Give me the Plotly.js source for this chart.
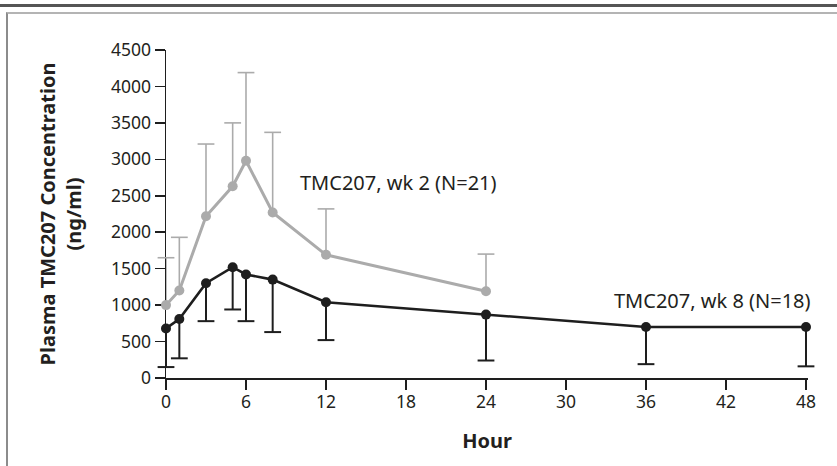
<!DOCTYPE html>
<html>
<head>
<meta charset="utf-8">
<script src="https://cdn.plot.ly/plotly-3.0.1.min.js"></script>
<style>
  html, body { margin: 0; padding: 0; background: #ffffff; }
  #wrap { position: relative; width: 837px; height: 466px; overflow: hidden; background: #ffffff; }
  #rule { position: absolute; left: 0; top: 4px; width: 837px; height: 3px; background: #555555; }
  #box { position: absolute; left: 6px; top: 12px; width: 900px; height: 500px;
         border-left: 2px solid #8c8c8c; border-top: 2px solid #b4b4b4; }
  #chart { position: absolute; left: 0; top: 0; width: 837px; height: 466px; }
</style>
</head>
<body>
<div id="wrap">
  <div id="rule"></div>
  <div id="box"></div>
  <div id="chart"></div>
</div>
<script>
// ---- data ----
const hoursWk2 = [0, 1, 3, 5, 6, 8, 12, 24];
const concWk2 = [1000, 1200, 2220, 2630, 2980, 2270, 1690, 1190];
const upperWk2 = [1650, 1930, 3210, 3500, 4190, 3370, 2320, 1700];

const hoursWk8 = [0, 1, 3, 5, 6, 8, 12, 24, 36, 48];
const concWk8 = [680, 810, 1300, 1520, 1420, 1350, 1040, 870, 700, 700];
const lowerWk8 = [150, 270, 780, 940, 780, 630, 520, 240, 190, 160];

const xTickVals = [0, 6, 12, 18, 24, 30, 36, 42, 48];
const yTickVals = [0, 500, 1000, 1500, 2000, 2500, 3000, 3500, 4000, 4500];

const labelWk2 = "TMC207, wk 2 (N=21)";
const labelWk8 = "TMC207, wk 8 (N=18)";
const xTitle = "Hour";
const yTitle = "Plasma TMC207 Concentration<br>(ng/ml)";

// ---- styling ----
const GREY = "#ababab";
const BLACK = "#1e1e1e";
const TEXT = "#231f20";
const FONT = "Noto Sans, Open Sans, sans-serif";

const zeros = (n) => new Array(n).fill(0);
const diff = (a, b) => a.map((v, i) => v - b[i]);

// stems: one-sided error bars without caps, starting at the mean
function stemTrace(xs, ys, plus, minus, color, width) {
  return {
    type: "scatter", mode: "markers", x: xs, y: ys,
    marker: { opacity: 0, size: 1 }, hoverinfo: "skip", showlegend: false, cliponaxis: false,
    error_y: { type: "data", symmetric: false, array: plus, arrayminus: minus,
               color: color, thickness: width, width: 0 }
  };
}
// caps: horizontal line markers at the far end of each whisker (not clipped at the axes)
function capTrace(xs, ends, color, width) {
  return {
    type: "scatter", mode: "markers", x: xs, y: ends,
    marker: { symbol: "line-ew", size: 12, color: color, line: { color: color, width: width } },
    hoverinfo: "skip", showlegend: false, cliponaxis: false
  };
}

const traces = [
  stemTrace(hoursWk2, concWk2, diff(upperWk2, concWk2), zeros(hoursWk2.length), GREY, 1.6),
  capTrace(hoursWk2, upperWk2, GREY, 1.6),
  { type: "scatter", mode: "lines+markers", x: hoursWk2, y: concWk2, name: labelWk2,
    line: { color: GREY, width: 3 }, marker: { color: GREY, size: 10 },
    showlegend: false, cliponaxis: false },
  stemTrace(hoursWk8, concWk8, zeros(hoursWk8.length), diff(concWk8, lowerWk8), BLACK, 2),
  capTrace(hoursWk8, lowerWk8, BLACK, 2),
  { type: "scatter", mode: "lines+markers", x: hoursWk8, y: concWk8, name: labelWk8,
    line: { color: BLACK, width: 2.6 }, marker: { color: BLACK, size: 10 },
    showlegend: false, cliponaxis: false }
];

const layout = {
  width: 837, height: 466,
  margin: { l: 166, r: 29, t: 50, b: 88 },
  paper_bgcolor: "rgba(0,0,0,0)",
  plot_bgcolor: "rgba(0,0,0,0)",
  font: { family: FONT, color: TEXT, size: 17 },
  showlegend: false,
  xaxis: {
    range: [0, 48.15], tickvals: xTickVals, ticktext: xTickVals.map(String),
    showgrid: false, zeroline: false, showline: true, linecolor: BLACK, linewidth: 1.5,
    ticks: "outside", ticklen: 10, tickwidth: 1.5, tickcolor: BLACK, layer: "below traces",
    ticklabelstandoff: -3,
    tickfont: { family: FONT, size: 17.5, color: TEXT },
    title: { text: xTitle, font: { family: FONT, size: 20, color: TEXT, weight: "bold" }, standoff: 22 },
    fixedrange: true
  },
  yaxis: {
    range: [0, 4500], tickvals: yTickVals, ticktext: yTickVals.map(String),
    showgrid: false, zeroline: false, showline: true, linecolor: BLACK, linewidth: 1.5,
    ticks: "outside", ticklen: 10, tickwidth: 1.5, tickcolor: BLACK, layer: "below traces",
    tickfont: { family: FONT, size: 17.5, color: TEXT },
    title: { text: yTitle, font: { family: FONT, size: 20, color: TEXT, weight: "bold" }, standoff: 24 },
    fixedrange: true
  },
  annotations: [
    { text: labelWk2, x: 9.9, y: 2680, xref: "x", yref: "y", xanchor: "left", yanchor: "middle",
      showarrow: false, font: { family: FONT, size: 20, color: TEXT } },
    { text: labelWk8, x: 1.0075, y: 1070, xref: "paper", yref: "y", xanchor: "right", yanchor: "middle",
      showarrow: false, font: { family: FONT, size: 20, color: TEXT } }
  ]
};

Plotly.newPlot("chart", traces, layout, { displayModeBar: false, staticPlot: true });
</script>
</body>
</html>
